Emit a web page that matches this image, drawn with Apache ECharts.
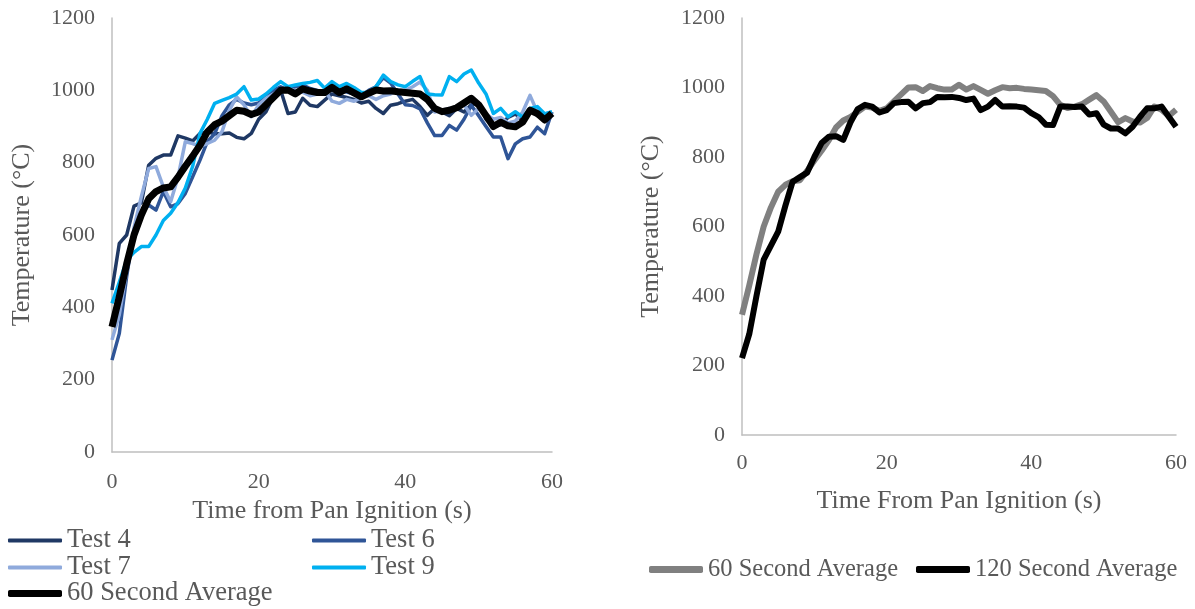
<!DOCTYPE html>
<html>
<head>
<meta charset="utf-8">
<script src="https://cdn.jsdelivr.net/npm/echarts@6/dist/echarts.min.js"></script>
<style>
    html, body { margin: 0; padding: 0; background: #fff; }
    .left_chart { position: absolute; left: 0; top: 0; width: 600px; height: 609px; }
    .right_chart { position: absolute; left: 600px; top: 0; width: 595px; height: 609px; }
</style>
</head>
<body>
<div class="left_chart"></div>
<div class="right_chart"></div>
<script>
// 时间 (s)
const seconds = [];
for (let i = 0; i <= 60; i++) seconds.push(i);

const yTicks = [0, 200, 400, 600, 800, 1000, 1200];
const xTicks = [0, 20, 40, 60];

// 各次试验温度 (°C)
const test4 = [448, 577, 600, 680, 689, 793, 812, 821, 821, 874, 868, 860, 881, 885, 880, 880, 882, 870, 866, 881,
    920, 941, 982, 1000, 936, 940, 978, 959, 955, 973, 990, 985, 980, 975, 965, 970, 950, 936, 959, 963,
    970, 975, 955, 931, 950, 940, 930, 950, 940, 960, 965, 920, 900, 905, 925, 935, 915, 950, 930, 925, 935];
const test6 = [254, 328, 485, 614, 660, 683, 669, 720, 678, 687, 715, 761, 807, 858, 880, 930, 960, 975, 965, 960,
    965, 985, 1000, 1010, 1000, 1010, 1015, 1005, 1000, 995, 1000, 1005, 995, 990, 985, 1000, 1010, 1035, 1020, 990,
    960, 958, 949, 910, 875, 875, 903, 890, 920, 958, 930, 900, 871, 871, 811, 852, 866, 871, 898, 880, 940];
const test7 = [310, 380, 500, 620, 706, 784, 789, 733, 692, 760, 858, 853, 845, 853, 862, 886, 945, 982, 960, 927,
    960, 978, 990, 1000, 1005, 1000, 995, 985, 990, 1000, 970, 964, 975, 970, 980, 985, 975, 985, 990, 1000,
    1000, 1010, 1023, 1000, 940, 945, 950, 955, 960, 931, 950, 935, 920, 925, 910, 915, 940, 986, 940, 935, 940];
const test9 = [411, 470, 530, 552, 568, 568, 600, 640, 660, 690, 730, 790, 881, 920, 964, 972, 980, 990, 1010, 973,
    976, 990, 1008, 1024, 1010, 1015, 1019, 1022, 1027, 1006, 1024, 1010, 1019, 1008, 994, 994, 1010, 1042, 1024, 1015,
    1010, 1025, 1038, 990, 988, 987, 1038, 1024, 1045, 1056, 1020, 990, 936, 950, 927, 941, 926, 950, 955, 935, 941];
// 60秒平均
const avg60 = [346, 430, 520, 600, 655, 700, 720, 730, 733, 760, 790, 818, 848, 885, 905, 915, 930, 945, 942, 933,
    940, 960, 980, 1000, 1001, 990, 1004, 998, 994, 994, 1008, 994, 1004, 993, 982, 992, 1001, 998, 999, 996,
    994, 992, 990, 975, 950, 941, 945, 952, 965, 978, 960, 930, 900, 912, 902, 899, 912, 945, 936, 918, 936];
// 120秒平均
const avg120 = [221, 290, 400, 505, 545, 585, 660, 729, 742, 755, 800, 840, 858, 860, 849, 900, 938, 950, 945, 928,
    935, 955, 958, 959, 940, 955, 958, 973, 972, 973, 970, 964, 968, 935, 945, 964, 945, 946, 945, 942,
    926, 915, 893, 892, 945, 945, 944, 945, 922, 926, 893, 882, 882, 868, 887, 915, 940, 940, 945, 916, 887];

function pairs(values) {
    return seconds.map(function (t, i) { return [t, values[i]]; });
}

const textColor = "#595959";
const fontFamily = "Liberation Serif";
const axisColor = "#bfbfbf";

function makeXAxis(name, labelMargin, nameGap) {
    return {
        type: 'value',
        min: xTicks[0],
        max: xTicks[xTicks.length - 1],
        interval: 20,
        name: name,
        nameLocation: 'middle',
        nameGap: nameGap,
        nameTextStyle: { color: textColor, fontSize: 26, fontFamily: fontFamily },
        axisLine: { show: true, lineStyle: { color: axisColor, width: 1.5 } },
        axisTick: { show: false },
        splitLine: { show: false },
        axisLabel: { color: textColor, fontSize: 22, fontFamily: fontFamily, margin: labelMargin }
    };
}

function makeYAxis(nameGap) {
    return {
        type: 'value',
        min: yTicks[0],
        max: yTicks[yTicks.length - 1],
        interval: 200,
        name: 'Temperature (°C)',
        nameLocation: 'middle',
        nameRotate: 90,
        nameGap: nameGap,
        nameTextStyle: { color: textColor, fontSize: 26, fontFamily: fontFamily },
        axisLine: { show: true, lineStyle: { color: axisColor, width: 1.5 } },
        axisTick: { show: false },
        splitLine: { show: false },
        axisLabel: {
            color: textColor, fontSize: 22, fontFamily: fontFamily, margin: 17,
            formatter: function (v) { return String(v); }
        }
    };
}

function lineSeries(name, values, color, width) {
    return {
        name: name,
        type: 'line',
        data: pairs(values),
        symbol: 'none',
        lineStyle: { color: color, width: width, join: 'round' },
        itemStyle: { color: color },
        animation: false
    };
}

function legendItem(name, left, top, thick, fontSize) {
    return {
        data: [name],
        left: left,
        top: top,
        icon: 'roundRect',
        itemWidth: 54,
        itemHeight: thick,
        itemGap: 0,
        padding: 0,
        textStyle: { color: textColor, fontSize: fontSize, fontFamily: fontFamily }
    };
}

(function () {
    // 左图: 各次试验
    let myChart = echarts.init(document.querySelector(".left_chart"));
    let option = {
        animation: false,
        grid: { left: 112, right: 48, top: 18, bottom: 157 },
        xAxis: makeXAxis('Time from Pan Ignition (s)', 19, 44),
        yAxis: makeYAxis(77),
        legend: [
            legendItem('Test 4', 8, 527, 4, 26.5),
            legendItem('Test 6', 312, 527, 4, 26.5),
            legendItem('Test 7', 8, 554, 4, 26.5),
            legendItem('Test 9', 312, 554, 4, 26.5),
            legendItem('60 Second Average', 8, 580, 7, 26.5)
        ],
        series: [
            lineSeries('Test 4', test4, '#1f3864', 3.5),
            lineSeries('Test 6', test6, '#2f5597', 3.5),
            lineSeries('Test 7', test7, '#8faadc', 3.5),
            lineSeries('Test 9', test9, '#00b0f0', 3.5),
            lineSeries('60 Second Average', avg60, '#000000', 7)
        ]
    };
    myChart.setOption(option);
    window.addEventListener("resize", function () {
        myChart.resize();
    });
})();

(function () {
    // 右图: 平均值对比
    let myChart = echarts.init(document.querySelector(".right_chart"));
    let option = {
        animation: false,
        grid: { left: 142, right: 19, top: 18, bottom: 174 },
        xAxis: makeXAxis('Time From Pan Ignition (s)', 17, 53),
        yAxis: makeYAxis(78),
        legend: [
            legendItem('60 Second Average', 49, 557, 7, 24.5),
            legendItem('120 Second Average', 316, 557, 7, 24.5)
        ],
        series: [
            lineSeries('60 Second Average', avg60, '#808080', 6),
            lineSeries('120 Second Average', avg120, '#000000', 6)
        ]
    };
    myChart.setOption(option);
    window.addEventListener("resize", function () {
        myChart.resize();
    });
})();
</script>
</body>
</html>
